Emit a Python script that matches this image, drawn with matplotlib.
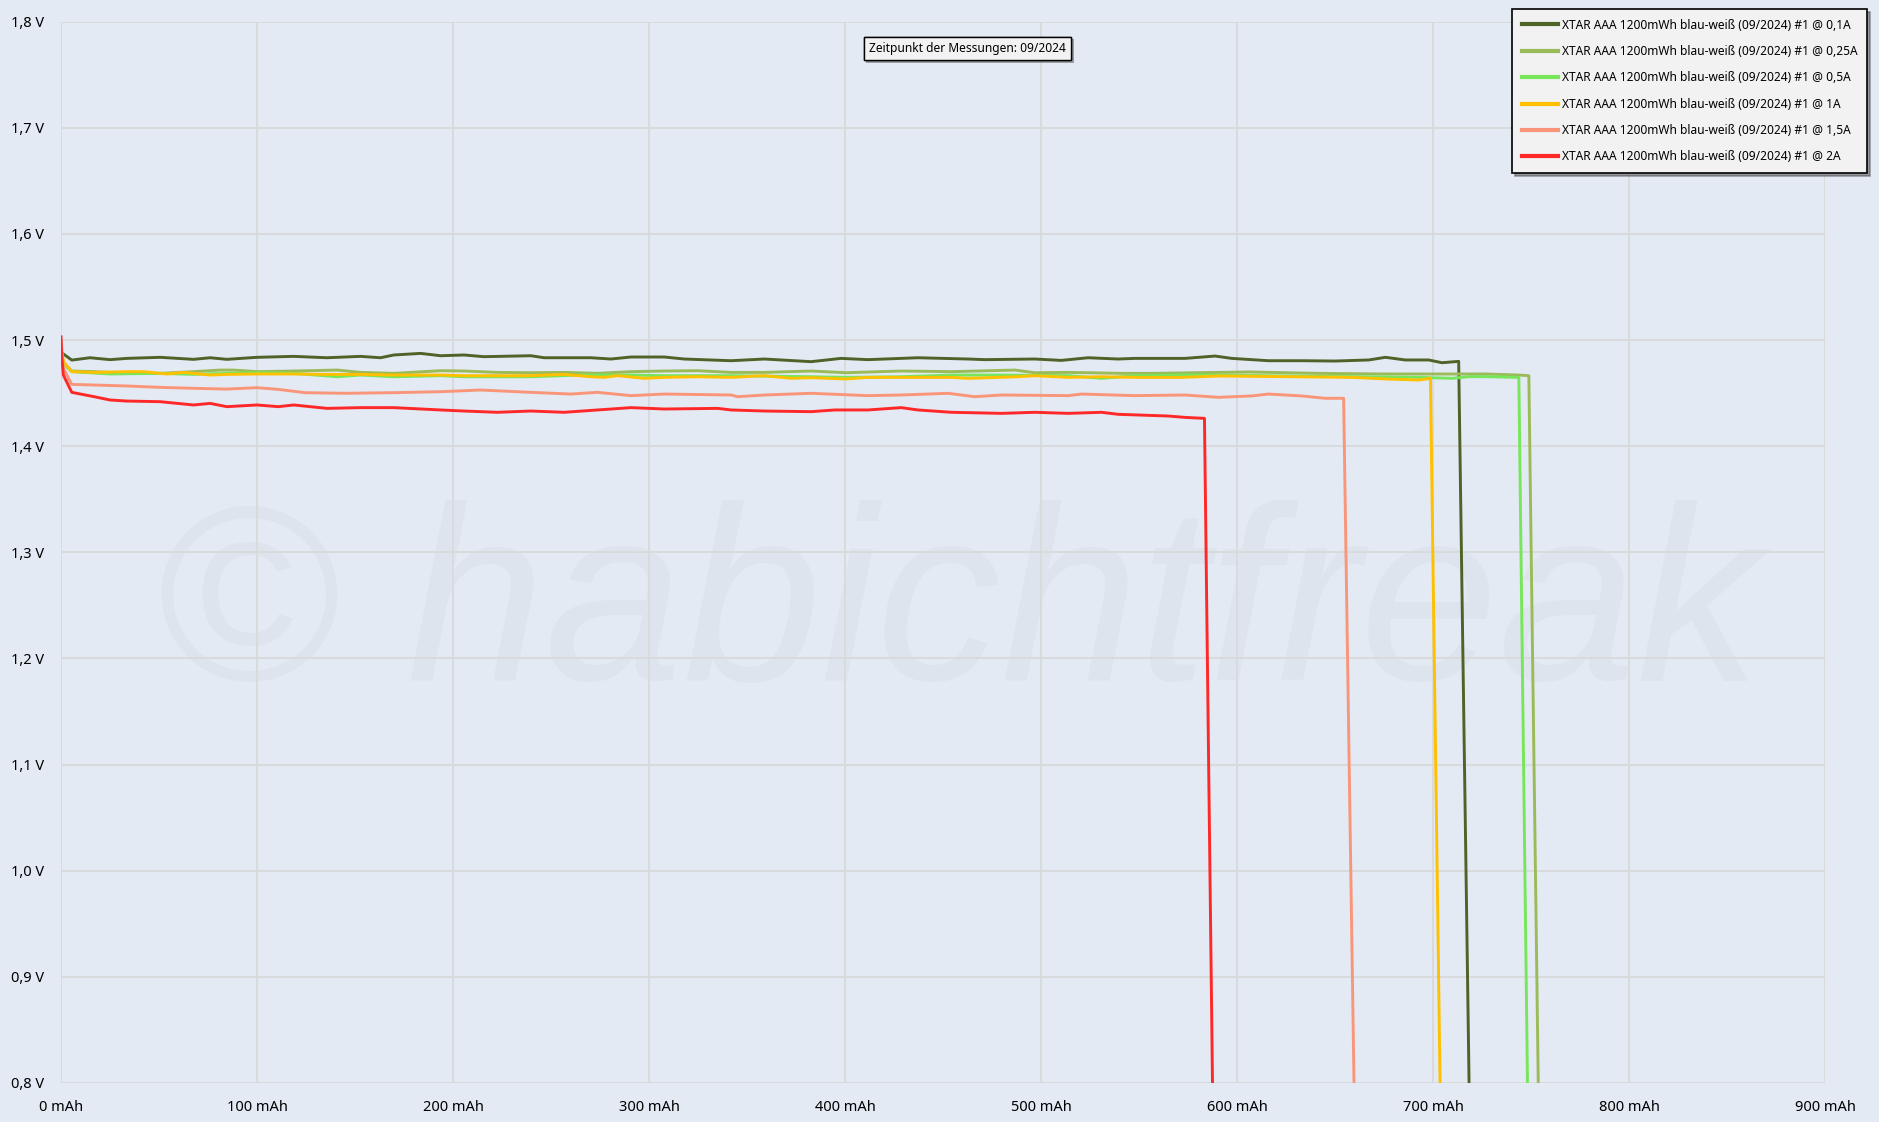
import matplotlib
matplotlib.use('Agg')
import matplotlib.pyplot as plt
import matplotlib.patheffects as pe

plt.rcParams['font.family'] = ['Noto Sans', 'DejaVu Sans']

# --- data ---
labels = ['XTAR AAA 1200mWh blau-weiß (09/2024) #1 @ 0,1A',
          'XTAR AAA 1200mWh blau-weiß (09/2024) #1 @ 0,25A',
          'XTAR AAA 1200mWh blau-weiß (09/2024) #1 @ 0,5A',
          'XTAR AAA 1200mWh blau-weiß (09/2024) #1 @ 1A',
          'XTAR AAA 1200mWh blau-weiß (09/2024) #1 @ 1,5A',
          'XTAR AAA 1200mWh blau-weiß (09/2024) #1 @ 2A']
colors = ['#4f6228', '#9bbb59', '#77e65a', '#ffc000', '#f9967a', '#ff2828']

cap_01 = [0, 5.5, 14.8, 25, 33.6, 50.6, 67.6, 76.1, 84.6, 100, 118.7, 135.7, 152.8, 163, 169.8, 183.5,
          193.7, 205.6, 215.8, 239.7, 246.5, 270.3, 280.6, 290.8, 307.8, 318, 341.9, 358.9, 382.7, 398,
          411.7, 437.2, 462.8, 471.3, 496.8, 510.4, 524, 539.4, 547.9, 573.5, 588.8, 597.3, 616.1, 633.1,
          650.1, 667.2, 675.7, 685.9, 697.8, 704.6, 713.1, 718.4]
u_01 = [1.4885, 1.4811, 1.4833, 1.4815, 1.4827, 1.4837, 1.4818, 1.4833, 1.4818, 1.4837, 1.4846, 1.4833,
        1.4846, 1.4833, 1.4859, 1.4874, 1.4852, 1.4859, 1.4843, 1.4852, 1.4833, 1.4833, 1.4821, 1.4840,
        1.4840, 1.4821, 1.4805, 1.4821, 1.4796, 1.4827, 1.4815, 1.4833, 1.4821, 1.4815, 1.4821, 1.4808,
        1.4833, 1.4821, 1.4827, 1.4827, 1.4849, 1.4827, 1.4805, 1.4805, 1.4802, 1.4812, 1.4837, 1.4812,
        1.4812, 1.4786, 1.4799, 0.8]

cap_025 = [0, 1.5, 5.5, 16.9, 33.6, 50.6, 67.6, 81.2, 88, 100, 118.7, 141, 152.8, 169.8, 193.7, 205.6,
           222.6, 239.7, 256.7, 273.7, 290.8, 307.8, 324.8, 341.9, 358.9, 382.7, 400.6, 428.7, 454.3,
           486.7, 496.8, 513.9, 541.1, 556.5, 605.9, 641.6, 675.7, 701.2, 726.8, 743.8, 748.9, 753.7]
u_025 = [1.488, 1.478, 1.4708, 1.4702, 1.4686, 1.4686, 1.4702, 1.4717, 1.4717, 1.4702, 1.4708, 1.4717,
         1.4695, 1.4686, 1.4711, 1.4708, 1.4695, 1.4692, 1.4695, 1.4686, 1.4702, 1.4708, 1.4711, 1.4695,
         1.4695, 1.4708, 1.4692, 1.4708, 1.4702, 1.4717, 1.4692, 1.4695, 1.4686, 1.4686, 1.4699, 1.4686,
         1.4680, 1.4680, 1.4680, 1.4670, 1.4664, 0.8]

cap_05 = [0, 1.5, 5.5, 25, 50.6, 67.6, 84.6, 100, 118.7, 141, 152.8, 169.8, 193.7, 205.6, 239.7, 265.2,
          290.8, 307.8, 341.9, 382.7, 400.6, 428.7, 454.3, 479.9, 513.9, 530.9, 547.9, 571.8, 590.5, 624.6,
          658.7, 692.8, 709.8, 718.3, 726.8, 743.8, 748.2]
u_05 = [1.486, 1.477, 1.4702, 1.4680, 1.4686, 1.4676, 1.4686, 1.4692, 1.4686, 1.4654, 1.4670, 1.4654,
        1.4664, 1.4654, 1.4654, 1.4670, 1.4670, 1.4664, 1.4664, 1.4654, 1.4648, 1.4654, 1.4670, 1.4670,
        1.4664, 1.4639, 1.4664, 1.4670, 1.4670, 1.4661, 1.4655, 1.4648, 1.4639, 1.4655, 1.4655, 1.4648, 0.8]

cap_1 = [0, 1.5, 5.5, 16.9, 33.6, 42.1, 54, 62.5, 76.1, 84.6, 100, 118.7, 135.7, 152.8, 169.8, 193.7,
         205.6, 222.6, 239.7, 256.7, 270.3, 277.1, 283.9, 297.5, 307.8, 324.8, 341.9, 358.9, 372.5, 382.7,
         400.6, 411.7, 428.7, 454.3, 462.8, 488.3, 496.8, 513.9, 530.9, 547.9, 571.8, 590.5, 624.6, 658.7,
         675.7, 692.8, 698.7, 703.6]
u_1 = [1.490, 1.479, 1.4702, 1.4695, 1.4702, 1.4702, 1.4680, 1.4695, 1.4670, 1.4676, 1.4680, 1.4680,
       1.4676, 1.4676, 1.4670, 1.4670, 1.4664, 1.4664, 1.4664, 1.4676, 1.4654, 1.4648, 1.4664, 1.4639,
       1.4648, 1.4654, 1.4648, 1.4664, 1.4639, 1.4645, 1.4633, 1.4648, 1.4648, 1.4648, 1.4639, 1.4654,
       1.4664, 1.4648, 1.4654, 1.4648, 1.4648, 1.4661, 1.4655, 1.4648, 1.4633, 1.4623, 1.4639, 0.8]

cap_15 = [0, 1.2, 5.5, 16.9, 33.6, 50.6, 67.6, 84.6, 100, 110.9, 124.4, 144.8, 169.8, 193.7, 214.1, 239.7,
          260.1, 273.7, 290.8, 307.8, 341.9, 345.3, 358.9, 382.7, 411.7, 428.7, 452.6, 466.2, 479.9, 513.9,
          520.7, 547.9, 573.5, 590.5, 607.5, 616.1, 633.1, 645, 654.4, 659.7]
u_15 = [1.500, 1.4733, 1.4582, 1.4576, 1.4567, 1.4554, 1.4545, 1.4538, 1.4551, 1.4535, 1.4504, 1.4498,
        1.4504, 1.4513, 1.4529, 1.4507, 1.4491, 1.4507, 1.4476, 1.4491, 1.4482, 1.4466, 1.4482, 1.4498,
        1.4476, 1.4482, 1.4498, 1.4466, 1.4482, 1.4476, 1.4491, 1.4476, 1.4482, 1.4460, 1.4473, 1.4491,
        1.4473, 1.4451, 1.4451, 0.8]

cap_2 = [0, 0.34, 1.2, 5.5, 16.9, 25, 33.6, 50.6, 67.6, 76.1, 84.6, 100, 110.9, 118.7, 135.7, 152.8, 169.8,
         193.7, 205.6, 222.6, 239.7, 256.7, 273.7, 290.8, 307.8, 335.1, 341.9, 358.9, 382.7, 394.6, 411.7,
         428.7, 437.2, 454.3, 479.9, 496.8, 513.9, 530.9, 539.4, 564.9, 573.5, 583.4, 587.5]
u_2 = [1.503, 1.485, 1.467, 1.4507, 1.4466, 1.4435, 1.4425, 1.4419, 1.4388, 1.4403, 1.4372, 1.4388, 1.4372,
       1.4388, 1.4356, 1.4363, 1.4363, 1.4341, 1.4331, 1.4319, 1.4331, 1.4319, 1.4341, 1.4363, 1.4350,
       1.4356, 1.4341, 1.4331, 1.4325, 1.4341, 1.4341, 1.4363, 1.4341, 1.4319, 1.4309, 1.4319, 1.4309,
       1.4319, 1.4300, 1.4284, 1.4271, 1.4262, 0.8]

caps = [cap_01, cap_025, cap_05, cap_1, cap_15, cap_2]
volts = [u_01, u_025, u_05, u_1, u_15, u_2]

xticks = [0, 100, 200, 300, 400, 500, 600, 700, 800, 900]
xticklabels = ['0 mAh', '100 mAh', '200 mAh', '300 mAh', '400 mAh', '500 mAh', '600 mAh', '700 mAh',
               '800 mAh', '900 mAh']
yticks = [0.8, 0.9, 1.0, 1.1, 1.2, 1.3, 1.4, 1.5, 1.6, 1.7, 1.8]
yticklabels = ['0,8 V', '0,9 V', '1,0 V', '1,1 V', '1,2 V', '1,3 V', '1,4 V', '1,5 V', '1,6 V', '1,7 V', '1,8 V']

bg = '#e3eaf4'
W, H = 1879, 1122
fig = plt.figure(figsize=(W/100, H/100), dpi=100, facecolor=bg)
ax = fig.add_axes([61/W, 39/H, (1825-61)/W, (1083-21.6)/H])
ax.set_facecolor(bg)

# watermark
ax.text(0.508, 0.44, '© habichtfreak', transform=ax.transAxes, fontsize=179, style='italic',
        family='Liberation Sans', color='#dde4ee', ha='center', va='center', zorder=0)

for i in range(len(caps)):
    ax.plot(caps[i], volts[i], color=colors[i], lw=2.1, label=labels[i], zorder=3)

ax.set_xlim(0, 900)
ax.set_ylim(0.8, 1.8)
ax.set_xticks(xticks)
ax.set_xticklabels(xticklabels)
ax.set_yticks(yticks)
ax.set_yticklabels(yticklabels)
ax.grid(True, color='#d9d9d9', lw=1.3, zorder=1)
ax.set_axisbelow(True)
for s in ax.spines.values():
    s.set_visible(False)
ax.tick_params(axis='both', length=0, labelsize=10.5, colors='black')
ax.tick_params(axis='x', pad=12)
ax.tick_params(axis='y', pad=12)

leg = ax.legend(loc='upper right', bbox_to_anchor=(1867/W, 1-9/H), bbox_transform=fig.transFigure,
                fontsize=8.6, frameon=True, fancybox=False, shadow=True, framealpha=1,
                facecolor='#f2f2f2', edgecolor='black', borderaxespad=0, handlelength=3.0,
                handletextpad=0.35, labelspacing=1.12, borderpad=0.8)
leg.get_frame().set_linewidth(1.2)
for line in leg.get_lines():
    line.set_linewidth(3)

t = fig.text(967.5/W, 1-48.5/H, 'Zeitpunkt der Messungen: 09/2024', fontsize=8.6, ha='center', va='center',
             bbox=dict(boxstyle='square,pad=0.45', fc='#f2f2f2', ec='black', lw=1.0))
t.get_bbox_patch().set_path_effects([pe.withSimplePatchShadow(offset=(2, -2), shadow_rgbFace='#555555', alpha=0.5),
                                     pe.Normal()])

fig.savefig('out.png', dpi=100, facecolor=bg)
